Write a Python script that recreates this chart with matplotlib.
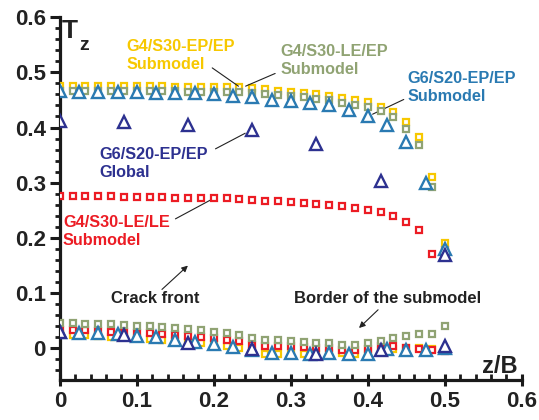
import matplotlib
matplotlib.use("Agg")
import matplotlib.pyplot as plt
from matplotlib.ticker import MultipleLocator

plt.rcParams["font.family"] = ["Liberation Sans", "DejaVu Sans"]
plt.rcParams["font.weight"] = "bold"

# nodal positions along the crack front (z/B)
Z_FINE = [0.000, 0.017, 0.033, 0.050, 0.067, 0.083, 0.100, 0.117, 0.133, 0.150,
          0.167, 0.183, 0.200, 0.217, 0.233, 0.250, 0.267, 0.283, 0.300, 0.317,
          0.333, 0.350, 0.367, 0.383, 0.400, 0.417, 0.433, 0.450, 0.467, 0.483,
          0.500]
Z_MID = [0.000, 0.025, 0.050, 0.075, 0.100, 0.125, 0.150, 0.175, 0.200, 0.225,
         0.250, 0.275, 0.300, 0.325, 0.350, 0.375, 0.400, 0.425, 0.450, 0.475,
         0.500]
Z_COARSE = [0.000, 0.083, 0.167, 0.250, 0.333, 0.417, 0.500]

# upper branch (crack front)
G4_EPEP_UP = [0.475, 0.475, 0.475, 0.475, 0.475, 0.475, 0.475, 0.475, 0.475, 0.474,
              0.474, 0.474, 0.474, 0.474, 0.473, 0.471, 0.469, 0.467, 0.465, 0.463,
              0.460, 0.458, 0.454, 0.450, 0.446, 0.438, 0.428, 0.410, 0.382, 0.310,
              0.191]
G4_LEEP_UP = [0.467, 0.467, 0.467, 0.467, 0.467, 0.467, 0.466, 0.466, 0.466, 0.466,
              0.465, 0.465, 0.465, 0.464, 0.464, 0.463, 0.461, 0.459, 0.457, 0.455,
              0.452, 0.449, 0.445, 0.441, 0.437, 0.430, 0.419, 0.398, 0.369, 0.293,
              0.178]
G4_LELE_UP = [0.275, 0.275, 0.275, 0.275, 0.275, 0.274, 0.274, 0.274, 0.274, 0.273,
              0.273, 0.273, 0.272, 0.272, 0.271, 0.269, 0.267, 0.266, 0.265, 0.264,
              0.262, 0.260, 0.257, 0.254, 0.251, 0.247, 0.239, 0.229, 0.215, 0.170,
              0.175]
G6_SUB_UP = [0.466, 0.465, 0.465, 0.464, 0.464, 0.463, 0.463, 0.462, 0.461, 0.458,
             0.455, 0.450, 0.448, 0.444, 0.440, 0.432, 0.420, 0.404, 0.374, 0.300,
             0.179]
G6_GLOB_UP = [0.412, 0.410, 0.404, 0.395, 0.371, 0.303, 0.168]

# lower branch (border of the submodel)
G4_EPEP_LO = [0.025, 0.024, 0.023, 0.022, 0.021, 0.020, 0.018, 0.017, 0.015, 0.013,
              0.011, 0.009, 0.007, 0.004, 0.000, -0.006, -0.010, -0.011, -0.011, -0.010,
              -0.010, -0.009, -0.009, -0.010, -0.007, -0.004, -0.001, 0.000, 0.000, -0.002,
              -0.003]
G4_LEEP_LO = [0.046, 0.045, 0.044, 0.044, 0.043, 0.042, 0.041, 0.040, 0.038, 0.036,
              0.034, 0.032, 0.030, 0.027, 0.024, 0.018, 0.015, 0.014, 0.013, 0.011,
              0.010, 0.009, 0.006, 0.006, 0.010, 0.013, 0.018, 0.022, 0.026, 0.026,
              0.040]
G4_LELE_LO = [0.033, 0.032, 0.032, 0.031, 0.030, 0.029, 0.028, 0.027, 0.025, 0.024,
              0.022, 0.020, 0.018, 0.015, 0.012, 0.006, 0.004, 0.004, 0.003, 0.002,
              0.001, 0.000, -0.003, -0.004, -0.001, 0.003, 0.003, 0.000, -0.002, -0.003,
              -0.005]
G6_SUB_LO = [0.029, 0.028, 0.028, 0.025, 0.022, 0.020, 0.014, 0.011, 0.007, 0.002,
             -0.004, -0.008, -0.009, -0.011, -0.008, -0.011, -0.011, -0.002, -0.004, -0.004,
             0.000]
G6_GLOB_LO = [0.029, 0.024, 0.010, -0.002, -0.011, -0.004, 0.003]

YELLOW = "#f7c800"
OLIVE = "#90a373"
BLUE = "#2a7ab2"
NAVY = "#2d3190"
RED = "#ec1c24"
INK = "#222222"

fig = plt.figure(figsize=(5.39, 4.2), dpi=100)
ax = fig.add_axes([0.111, 0.095, 0.857, 0.864])

sq = dict(marker="s", linestyle="none", markersize=4.8, markeredgewidth=1.6,
          markerfacecolor="white")
tri = dict(marker="^", linestyle="none", markersize=8, markeredgewidth=1.7,
           markerfacecolor="white")

for ys in (G4_EPEP_UP, G4_EPEP_LO):
    ax.plot(Z_FINE, ys, color=YELLOW, zorder=3, **sq)
for ys in (G4_LELE_UP, G4_LELE_LO):
    ax.plot(Z_FINE, ys, color=RED, zorder=4, **sq)
for ys in (G4_LEEP_UP, G4_LEEP_LO):
    ax.plot(Z_FINE, ys, color=OLIVE, zorder=5, **sq)
for ys in (G6_SUB_UP, G6_SUB_LO):
    ax.plot(Z_MID, ys, color=BLUE, zorder=6, **tri)
for ys in (G6_GLOB_UP, G6_GLOB_LO):
    ax.plot(Z_COARSE, ys, color=NAVY, zorder=7, **tri)

ax.set_xlim(0, 0.6)
ax.set_ylim(-0.058, 0.6)
ax.xaxis.set_minor_locator(MultipleLocator(0.02))
ax.yaxis.set_minor_locator(MultipleLocator(0.02))
ax.set_xticks([0, 0.1, 0.2, 0.3, 0.4, 0.5, 0.6])
ax.set_xticklabels(["0", "0.1", "0.2", "0.3", "0.4", "0.5", "0.6"])
ax.set_yticks([0, 0.1, 0.2, 0.3, 0.4, 0.5, 0.6])
ax.set_yticklabels(["0", "0.1", "0.2", "0.3", "0.4", "0.5", "0.6"])

for s in ("top", "right"):
    ax.spines[s].set_visible(False)
for s in ("left", "bottom"):
    ax.spines[s].set_linewidth(2.3)
    ax.spines[s].set_color("#1a1a1a")
ax.tick_params(axis="x", which="major", direction="inout", length=9, width=2.2,
               labelsize=16, pad=3, colors="#1a1a1a")
ax.tick_params(axis="x", which="minor", direction="in", length=4, width=2.0,
               colors="#1a1a1a")
ax.tick_params(axis="y", which="major", direction="out", length=7, width=2.2,
               labelsize=16, pad=3, colors="#1a1a1a")
ax.tick_params(axis="y", which="minor", direction="out", length=3.5, width=2.0,
               colors="#1a1a1a")
for lab in ax.get_xticklabels() + ax.get_yticklabels():
    lab.set_fontweight("bold")
    lab.set_color(INK)

# axis titles
ax.text(0.003, 0.563, "T", fontsize=19, fontweight="bold", color=INK)
ax.text(0.025, 0.540, "z", fontsize=14, fontweight="bold", color=INK)
ax.text(0.548, -0.045, "z/B", fontsize=17, fontweight="bold", color=INK)

# series labels with leader lines
lab = dict(fontsize=11.7, fontweight="bold", va="center", ha="left", linespacing=1.25)
line = dict(arrowstyle="-", color=INK, lw=0.8)
ax.text(0.086, 0.531, "G4/S30-EP/EP\nSubmodel", color=YELLOW, **lab)
ax.annotate("", xy=(0.235, 0.472), xytext=(0.195, 0.511), arrowprops=line)
ax.text(0.287, 0.521, "G4/S30-LE/EP\nSubmodel", color=OLIVE, **lab)
ax.annotate("", xy=(0.238, 0.473), xytext=(0.283, 0.500), arrowprops=line)
ax.text(0.452, 0.472, "G6/S20-EP/EP\nSubmodel", color=BLUE, **lab)
ax.annotate("", xy=(0.403, 0.422), xytext=(0.450, 0.453), arrowprops=line)
ax.text(0.051, 0.335, "G6/S20-EP/EP\nGlobal", color=NAVY, **lab)
ax.annotate("", xy=(0.244, 0.392), xytext=(0.199, 0.359), arrowprops=line)
ax.text(0.004, 0.212, "G4/S30-LE/LE\nSubmodel", color=RED, **lab)
ax.annotate("", xy=(0.199, 0.271), xytext=(0.147, 0.232), arrowprops=line)

arrow = dict(arrowstyle="-|>", color=INK, lw=0.8, mutation_scale=9)
ax.text(0.067, 0.090, "Crack front", fontsize=12, fontweight="bold",
        va="center", ha="left", color=INK)
ax.annotate("", xy=(0.169, 0.153), xytext=(0.130, 0.103), arrowprops=arrow)
ax.text(0.304, 0.090, "Border of the submodel", fontsize=12, fontweight="bold",
        va="center", ha="left", color=INK)
ax.annotate("", xy=(0.386, 0.033), xytext=(0.416, 0.073), arrowprops=arrow)

fig.savefig("out.png", dpi=100)
